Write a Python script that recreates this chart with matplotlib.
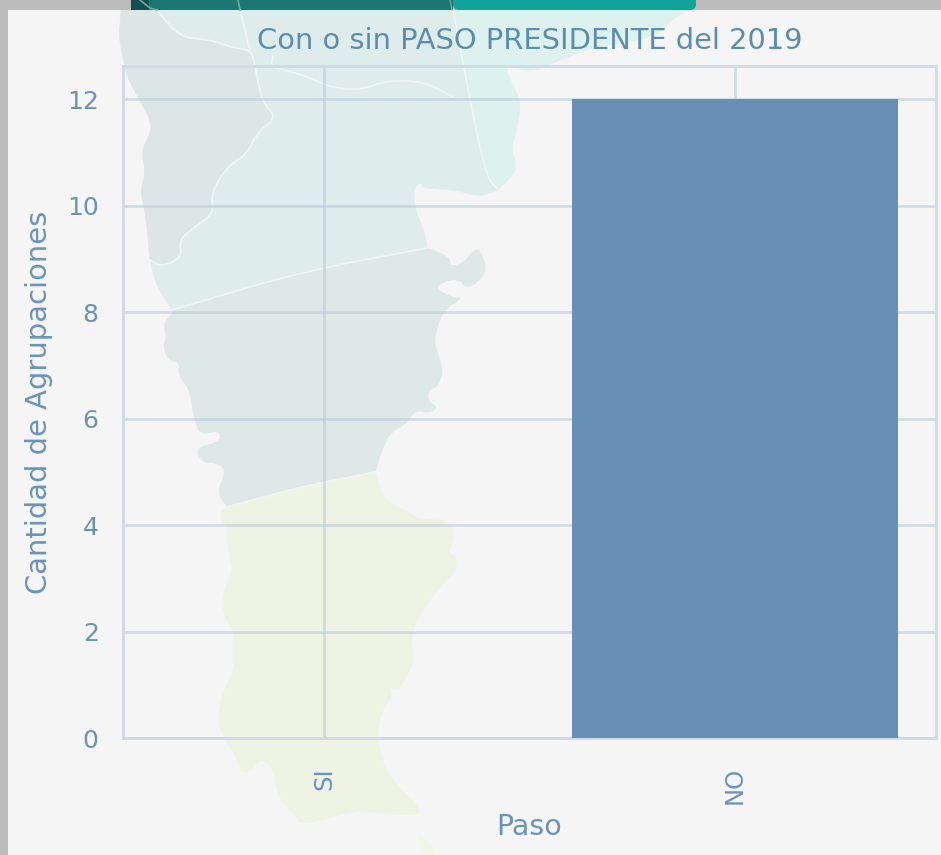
import matplotlib
matplotlib.use("Agg")
import matplotlib.pyplot as plt
from matplotlib.patches import Polygon, Rectangle, FancyBboxPatch

# ---- data ----
categories = ["SI", "NO"]
values = [0, 12]
title = "Con o sin PASO PRESIDENTE del 2019"
xlabel = "Paso"
ylabel = "Cantidad de Agrupaciones"
yticks = [0, 2, 4, 6, 8, 10, 12]

# ---- decorative map backdrop (figure pixels) ----
NW = [(121,10),(119,38),(123,58),(127,77),(138,97),(154,127),(141,150),(146,173),(140,190),(146,217),(150,260),(162,267),(182,257),(179,240),(195,227),(214,213),(211,197),(218,180),(232,163),(246,155),(257,133),(277,117),(262,103),(254,60),(250,50),(230,47),(211,40),(179,37),(157,10)]
MID = [(157,10),(179,37),(211,40),(230,47),(250,50),(254,60),(262,103),(277,117),(257,133),(246,155),(232,163),(218,180),(211,197),(214,213),(195,227),(179,240),(182,257),(162,267),(150,260),(156,285),(172,310),(300,272),(427,248),(425,233),(414,207),(414,187),(423,182),(421,188),(457,190),(479,197),(498,190),(484,173),(453,10)]
EAST = [(453,10),(484,173),(498,190),(518,170),(511,150),(516,133),(521,103),(515,90),(503,63),(530,73),(560,60),(593,47),(657,37),(667,23),(687,10)]
CENTRE = [(172,310),(300,272),(427,248),(450,257),(450,267),(464,263),(475,248),(482,253),(487,273),(468,290),(457,277),(432,287),(453,298),(463,298),(443,310),(433,340),(440,360),(443,373),(437,387),(428,390),(428,402),(438,407),(430,413),(415,410),(407,423),(390,433),(383,447),(375,472),(300,487),(227,507),(217,492),(227,470),(215,462),(203,463),(195,448),(220,442),(220,430),(200,435),(195,420),(192,407),(190,390),(178,375),(180,362),(168,360),(163,345),(167,338),(163,323),(172,315)]
SOUTH = [(375,472),(383,500),(410,513),(420,520),(450,520),(455,537),(447,553),(457,557),(457,570),(443,583),(420,613),(410,637),(415,660),(400,690),(387,687),(393,695),(380,713),(377,743),(388,777),(425,813),(407,815),(380,813),(357,810),(303,825),(297,817),(278,797),(273,767),(260,758),(250,772),(240,772),(237,757),(223,737),(218,717),(223,693),(235,667),(232,647),(235,633),(222,612),(225,587),(233,570),(230,560),(228,543),(228,527),(218,515),(227,507),(300,487)]
TIP = [(417,832),(440,855),(423,855)]
BORDERS = [
    [(157,10),(179,37),(211,40),(230,47),(250,50),(254,60),(262,103),(277,117),(257,133),(246,155),(232,163),(218,180),(211,197),(214,213),(195,227),(179,240),(182,257),(162,267),(150,260)],
    [(240,10),(250,50)],
    [(453,10),(484,173),(498,190)],
    [(172,310),(300,272),(427,248)],
    [(227,507),(300,487),(375,472)],
    [(273,55),(271,67),(286,70),(311,78),(332,88),(361,90),(389,80),(425,82),(453,97)],
]
# corners shared by neighbouring regions stay fixed when the outline is rounded
PINS = {(121,10),(157,10),(453,10),(687,10),(150,260),(172,310),(427,248),(498,190),(375,472),(227,507),(300,272),(300,487)}


def cut(pts, rounds=2):
    for _ in range(rounds):
        out = [pts[0]]
        for a, b in zip(pts[:-1], pts[1:]):
            out.append((0.75*a[0]+0.25*b[0], 0.75*a[1]+0.25*b[1]))
            out.append((0.25*a[0]+0.75*b[0], 0.25*a[1]+0.75*b[1]))
        out.append(pts[-1])
        pts = out
    return pts


def smooth_closed(pts):
    idx = [i for i, p in enumerate(pts) if p in PINS]
    if not idx:
        return cut(pts + [pts[0]])
    rot = pts[idx[0]:] + pts[:idx[0]] + [pts[idx[0]]]
    out, piece = [], [rot[0]]
    for p in rot[1:]:
        piece.append(p)
        if p in PINS:
            out.extend(cut(piece)[:-1])
            piece = [p]
    return out


plt.rcParams["font.family"] = "DejaVu Sans"
W, H = 941, 855
fig = plt.figure(figsize=(W/100, H/100), dpi=100, facecolor="#f5f5f5")

bg = fig.add_axes([0, 0, 1, 1], zorder=0)
bg.set_xlim(0, W); bg.set_ylim(H, 0); bg.axis("off")
for poly, col in [(NW, "#dde6e7"), (MID, "#dfecec"), (EAST, "#ddf1ee"), (CENTRE, "#dee8e7"), (SOUTH, "#eff3e3"), (TIP, "#f1f7e6")]:
    bg.add_patch(Polygon(smooth_closed(poly), closed=True, fc=col, ec=col, lw=0.4))
for b in BORDERS:
    xs, ys = zip(*cut(b))
    bg.plot(xs, ys, color="#eff5f4", lw=1.3)
bg.add_patch(Rectangle((0, 0), 8, H, fc="#bcbcbc", ec="none"))
bg.add_patch(Rectangle((0, 0), W, 10, fc="#bcbcbc", ec="none"))
bg.add_patch(Rectangle((131, 0), 322, 10, fc="#1b7674", ec="none"))
bg.add_patch(Rectangle((131, 0), 18, 10, fc="#114f50", ec="none"))
bg.add_patch(FancyBboxPatch((453, -20), 243, 30, boxstyle="round,pad=0,rounding_size=6", fc="#10a396", ec="none"))
bg.plot([238, 240], [0, 10], color="#6fa9a5", lw=1.2)
bg.plot([450, 452], [0, 10], color="#6fa9a5", lw=1.0)
bg.plot([140, 150, 157], [0, 8, 10], color="#6fa9a5", lw=1.2)

ax = fig.add_axes([123/W, 1-738/H, (936-123)/W, (738-66)/H], zorder=1)
ax.patch.set_alpha(0)
x = list(range(len(categories)))
ax.bar(x, values, width=0.794, color="#6890b7", zorder=3)
ax.set_xlim(-0.489, 1.489)
ax.set_ylim(0, 12.62)
ax.set_xticks(x); ax.set_xticklabels(categories, rotation=90)
ax.set_yticks(yticks)
ax.grid(True, color="#b5c9dc", alpha=0.55, lw=2.0, zorder=1)
ax.set_axisbelow(True)
for s in ax.spines.values():
    s.set_color("#cddbe8"); s.set_linewidth(2.0)
TXT = "#6a93bb"
ax.tick_params(length=0, labelcolor=TXT, labelsize=18, pad=17.5, axis="y")
ax.tick_params(length=0, labelcolor=TXT, labelsize=17.5, pad=21, axis="x")
ax.set_title(title, color="#5c8db0", fontsize=20.8, pad=12)
ax.set_xlabel(xlabel, color=TXT, fontsize=20.5, labelpad=6)
ax.set_ylabel(ylabel, color=TXT, fontsize=20.9, labelpad=10)
fig.savefig("out.png", dpi=100, facecolor=fig.get_facecolor())
